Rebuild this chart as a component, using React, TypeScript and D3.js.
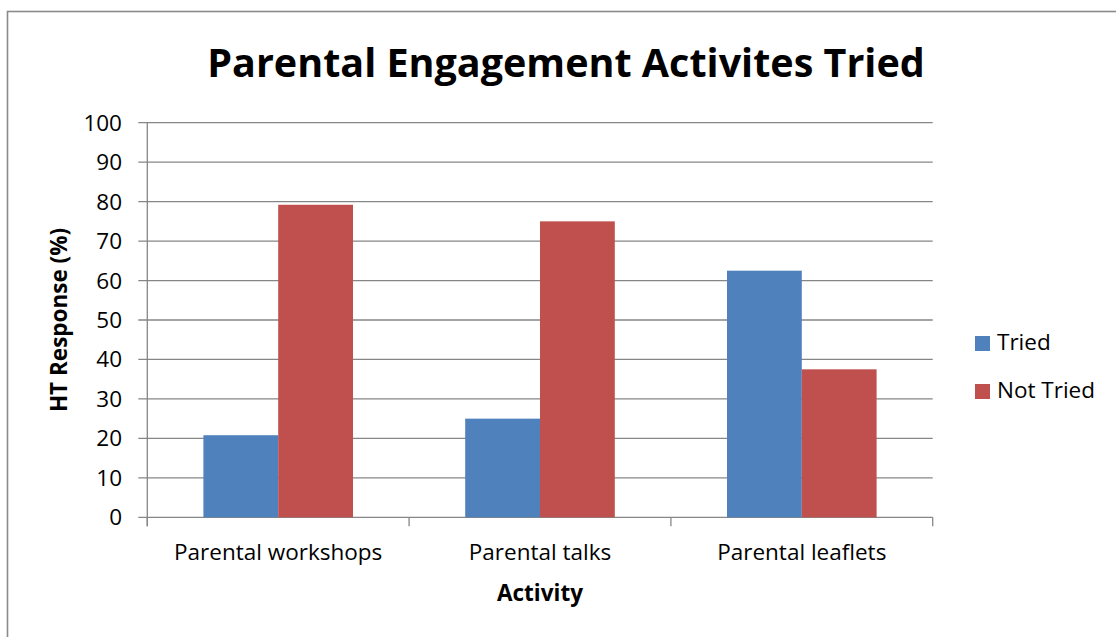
import React from "react";
import * as d3 from "d3";

const title = "Parental Engagement Activites Tried";
const categories = ["Parental workshops", "Parental talks", "Parental leaflets"];
const seriesNames = ["Tried", "Not Tried"];
const tried = [20.8, 25, 62.5];
const notTried = [79.2, 75, 37.5];
const yTicks = [0, 10, 20, 30, 40, 50, 60, 70, 80, 90, 100];
const colors = ["#4F81BD", "#C0504D"];
const xTitle = "Activity";
const yTitle = "HT Response (%)";

const FONT = "'Open Sans', Lato, sans-serif";

export default function App() {
  const W = 1116, H = 637;
  const left = 147.3, right = 932.7, top = 122.7, bottom = 517.3;
  const y = d3.scaleLinear().domain([0, 100]).range([bottom, top]);
  const x0 = d3.scaleBand<string>().domain(categories).range([left, right]).paddingInner(0).paddingOuter(0);
  const bw = x0.bandwidth() / 3.5;
  const x1 = d3.scaleBand<string>().domain(seriesNames).range([0, 2 * bw]);
  const series = [tried, notTried];
  const grid = "#868686";
  const boundaries = [left, ...categories.map((c) => (x0(c) as number) + x0.bandwidth())];
  const fs = 22.5;

  return (
    <svg width={W} height={H} style={{ position: "absolute", left: 0, top: 0, background: "#fff" }} fontFamily={FONT}>
      <rect x={7.5} y={11.5} width={W + 20} height={H + 20} fill="#fff" stroke="#8a8a8a" strokeWidth={1.6} />
      <text x={566} y={77} textAnchor="middle" fontSize={39.5} fontWeight={700} fill="#000">{title}</text>
      {yTicks.map((t) => (
        <g key={t}>
          <line x1={left - 9} x2={right} y1={y(t)} y2={y(t)} stroke={grid} strokeWidth={1.3} />
          <text x={122} y={y(t) + 8} textAnchor="end" fontSize={fs} fill="#000">{t}</text>
        </g>
      ))}
      <line x1={left} x2={left} y1={top} y2={bottom + 9} stroke={grid} strokeWidth={1.3} />
      {boundaries.map((b, i) => (
        <line key={i} x1={b} x2={b} y1={bottom} y2={bottom + 9} stroke={grid} strokeWidth={1.3} />
      ))}
      {categories.map((c, i) => (
        <g key={c}>
          {series.map((s, j) => (
            <rect
              key={j}
              x={(x0(c) as number) + bw * 0.75 + (x1(seriesNames[j]) as number)}
              y={y(s[i])}
              width={x1.bandwidth()}
              height={bottom - y(s[i])}
              fill={colors[j]}
            />
          ))}
          <text x={(x0(c) as number) + x0.bandwidth() / 2} y={560} textAnchor="middle" fontSize={fs} fill="#000">{c}</text>
        </g>
      ))}
      <text x={540} y={601} textAnchor="middle" fontSize={fs} fontWeight={700} fill="#000">{xTitle}</text>
      <text transform={`translate(66.5,320) rotate(-90)`} textAnchor="middle" fontSize={fs} fontWeight={700} fill="#000">{yTitle}</text>
      {seriesNames.map((n, j) => (
        <g key={n}>
          <rect x={975} y={336 + j * 48} width={15} height={15} fill={colors[j]} />
          <text x={997} y={350 + j * 48} fontSize={fs} fill="#000">{n}</text>
        </g>
      ))}
    </svg>
  );
}
